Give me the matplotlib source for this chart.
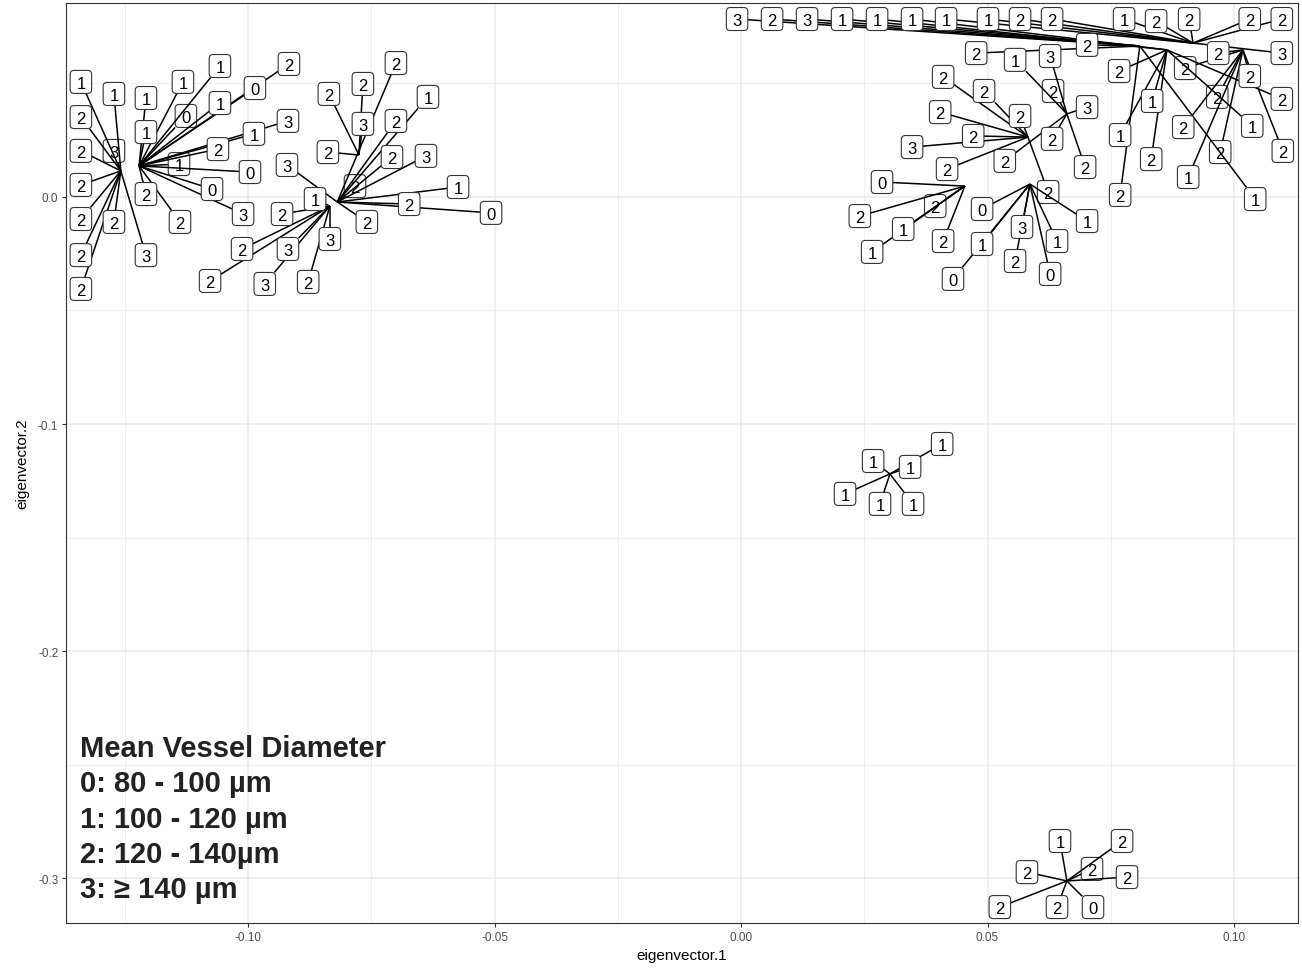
import matplotlib
matplotlib.use("Agg")
import matplotlib.pyplot as plt
import matplotlib.transforms as mtransforms
from matplotlib.patches import FancyBboxPatch
import numpy as np

plt.rcParams['font.family'] = ['Liberation Sans', 'DejaVu Sans']

# ---------------- data ----------------
# positions of the underlying points (several labels share a point)
hub_x = [-0.1258, -0.1221, -0.0819, -0.0834, -0.0775,
         0.0917, 0.0864, 0.1018, 0.0809, 0.0661,
         0.0582, 0.0454, 0.0586, 0.0302, 0.0661]
hub_y = [0.0115, 0.0137, -0.0022, -0.0040, 0.0185,
         0.0678, 0.0648, 0.0648, 0.0665, 0.0366,
         0.0264, 0.0048, 0.0057, -0.1220, -0.3013]

# left group of labels
left_text = ['1', '1', '2', '2', '3', '2', '2', '2', '2', '2', '3',
             '1', '1', '1', '0', '1', '0', '2', '1', '2', '1', '3', '1', '0', '0', '3', '2', '2',
             '2', '1', '2', '2', '3', '2', '1', '2', '0', '2', '3',
             '2', '2', '3', '2',
             '1', '2', '2', '2', '3', '3', '3', '2']
left_x = [-0.1339, -0.1272, -0.1339, -0.1339, -0.1272, -0.1339, -0.1339, -0.1272, -0.1339, -0.1339, -0.1207,
          -0.1207, -0.1132, -0.1057, -0.1126, -0.1057, -0.0986, -0.0917, -0.1207, -0.1061, -0.0988, -0.0919,
          -0.1140, -0.0996, -0.1073, -0.1010, -0.1207, -0.1138,
          -0.0700, -0.0635, -0.0700, -0.0708, -0.0639, -0.0783, -0.0574, -0.0673, -0.0507, -0.0759, -0.0921,
          -0.0836, -0.0767, -0.0767, -0.0838,
          -0.0864, -0.0931, -0.1012, -0.1077, -0.0919, -0.0966, -0.0834, -0.0878]
left_y = [0.0507, 0.0454, 0.0352, 0.0203, 0.0203, 0.0053, -0.0097, -0.0110, -0.0256, -0.0405, -0.0256,
          0.0436, 0.0507, 0.0577, 0.0357, 0.0414, 0.0480, 0.0586, 0.0286, 0.0211, 0.0278, 0.0335,
          0.0145, 0.0110, 0.0035, -0.0075, 0.0013, -0.0110,
          0.0590, 0.0441, 0.0335, 0.0176, 0.0181, 0.0048, 0.0044, -0.0031, -0.0070, -0.0110, 0.0141,
          0.0454, 0.0498, 0.0322, 0.0198,
          -0.0009, -0.0075, -0.0229, -0.0370, -0.0229, -0.0383, -0.0185, -0.0374]
left_hub = [0] * 11 + [1] * 17 + [2] * 11 + [4] * 4 + [3] * 8

# upper right group of labels
right_text = ['3', '2', '3', '1', '1', '1', '1', '1', '2', '2', '1', '2', '2', '2', '2',
              '2', '2', '1', '3', '2', '3', '2', '2', '2',
              '2', '2', '2', '3', '1', '1', '2', '2', '2', '2', '1', '2', '2', '2', '1', '2', '1',
              '2', '2', '2', '2', '2', '3', '2', '2',
              '0', '2', '2', '1', '1', '2',
              '0', '1', '0', '3', '2', '0', '1', '1']
right_x = [-0.0008, 0.0063, 0.0134, 0.0205, 0.0276, 0.0347, 0.0416, 0.0501, 0.0566, 0.0631,
           0.0777, 0.0842, 0.0909, 0.1032, 0.1097,
           0.0477, 0.0702, 0.0556, 0.0627, 0.0633, 0.0702, 0.0631, 0.0698, 0.0535,
           0.0767, 0.0901, 0.0968, 0.1097, 0.0834, 0.0769, 0.0832, 0.0769, 0.0897, 0.0966,
           0.1037, 0.1097, 0.1032, 0.0972, 0.0907, 0.1099, 0.1043,
           0.0410, 0.0493, 0.0566, 0.0404, 0.0471, 0.0347, 0.0418, 0.0623,
           0.0286, 0.0241, 0.0394, 0.0329, 0.0266, 0.0410,
           0.0489, 0.0489, 0.0430, 0.0570, 0.0556, 0.0627, 0.0641, 0.0702]
right_y = [0.0784, 0.0784, 0.0784, 0.0784, 0.0784, 0.0784, 0.0784, 0.0784, 0.0784, 0.0784,
           0.0784, 0.0775, 0.0784, 0.0784, 0.0784,
           0.0634, 0.0670, 0.0604, 0.0621, 0.0467, 0.0396, 0.0256, 0.0132, 0.0159,
           0.0555, 0.0568, 0.0634, 0.0634, 0.0423, 0.0273, 0.0167, 0.0009, 0.0308, 0.0441,
           0.0313, 0.0432, 0.0533, 0.0198, 0.0088, 0.0203, -0.0009,
           0.0529, 0.0467, 0.0357, 0.0374, 0.0269, 0.0220, 0.0123, 0.0022,
           0.0066, -0.0084, -0.0040, -0.0141, -0.0242, -0.0194,
           -0.0053, -0.0207, -0.0361, -0.0132, -0.0282, -0.0339, -0.0194, -0.0106]
right_hub = [8, 8, 8, 8, 6, 6, 5, 5, 5, 5, 5, 5, 5, 5, 5,
             8, 8, 9, 9, 9, 9, 9, 9, 9,
             6, 7, 7, 5, 6, 6, 6, 8, 7, 7, 6, 6, 7, 7, 7, 7, 8,
             10, 10, 10, 10, 10, 10, 10, 10,
             11, 11, 11, 11, 11, 11,
             12, 12, 12, 12, 12, 12, 12, 12]

# middle group
mid_text = ['1', '1', '1', '1', '1', '1']
mid_x = [0.0408, 0.0343, 0.0268, 0.0211, 0.0282, 0.0349]
mid_y = [-0.1088, -0.1189, -0.1163, -0.1308, -0.1352, -0.1352]
mid_hub = [13] * 6

# bottom group
bot_text = ['1', '2', '2', '2', '2', '2', '2', '0']
bot_x = [0.0647, 0.0773, 0.0712, 0.0783, 0.0580, 0.0525, 0.0641, 0.0714]
bot_y = [-0.2837, -0.2837, -0.2960, -0.2996, -0.2974, -0.3128, -0.3128, -0.3128]
bot_hub = [14] * 8

legend_lines = ['Mean Vessel Diameter', '0: 80 - 100 µm', '1: 100 - 120 µm',
                '2: 120 - 140µm', '3: \u2265 140 µm']
legend_x = -0.1341
legend_y = [-0.2427, -0.2581, -0.2740, -0.2894, -0.3048]

x_ticks = [-0.10, -0.05, 0.00, 0.05, 0.10]
x_ticklabels = ['-0.10', '-0.05', '0.00', '0.05', '0.10']
y_ticks = [-0.3, -0.2, -0.1, 0.0]
y_ticklabels = ['-0.3', '-0.2', '-0.1', '0.0']
x_minor = [-0.125, -0.075, -0.025, 0.025, 0.075]
y_minor = [-0.25, -0.15, -0.05, 0.05]

# labels drawn beneath the segments (overlapped in the original)
under_left = {4, 14, 22, 33}
under_right = {19, 25, 33, 37, 48, 51}
under_bot = {2}

# ---------------- figure ----------------
W, H = 1302, 970
fig = plt.figure(figsize=(W / 100, H / 100), dpi=100)
ax = fig.add_axes([66 / W, 1 - 924 / H, (1298 - 66) / W, (924 - 4) / H])

ax.set_xticks(x_ticks)
ax.set_xticklabels(x_ticklabels)
ax.set_yticks(y_ticks)
ax.set_yticklabels(y_ticklabels)
ax.set_xticks(x_minor, minor=True)
ax.set_yticks(y_minor, minor=True)
ax.set_xlim(-0.13692, 0.11298)
ax.set_ylim(-0.31982, 0.08546)
ax.set_autoscale_on(False)

ax.tick_params(which='minor', length=0)
ax.tick_params(which='major', length=3, width=0.8, color='#333333',
               labelcolor='#4D4D4D', labelsize=8.5, pad=2.5)
ax.grid(which='major', color='#EBEBEB', lw=1.1)
ax.grid(which='minor', color='#EBEBEB', lw=0.55)
ax.set_axisbelow(True)
for s in ax.spines.values():
    s.set_color('#333333')
    s.set_linewidth(0.8)

ax.set_xlabel('eigenvector.1', fontsize=11, color='black', labelpad=4)
ax.set_ylabel('eigenvector.2', fontsize=11, color='black', labelpad=6)

BOX_W, BOX_H = 21.5, 23.0  # pixels
FS = 12


def draw_group(texts, xs, ys, hubs, under):
    for i, (t, x, y, h) in enumerate(zip(texts, xs, ys, hubs)):
        hx, hy = hub_x[h], hub_y[h]
        L = ax.transData.transform((x, y))
        P = ax.transData.transform((hx, hy))
        d = P - L
        m = max(abs(d[0]) / (BOX_W / 2), abs(d[1]) / (BOX_H / 2))
        if m > 1.05:
            E = L + d / m
            ex, ey = ax.transData.inverted().transform(E)
            ax.plot([hx, ex], [hy, ey], color='black', lw=1.1, zorder=2,
                    solid_capstyle='butt')
        zb = 1.5 if i in under else 3
        trans = fig.dpi_scale_trans + mtransforms.ScaledTranslation(x, y, ax.transData)
        box = FancyBboxPatch((-BOX_W / 200, -BOX_H / 200), BOX_W / 100, BOX_H / 100,
                             boxstyle='round,pad=0,rounding_size=0.04',
                             transform=trans, facecolor='white',
                             edgecolor='#333333', lw=0.8, zorder=zb)
        ax.add_patch(box)
        ax.annotate(t, (x, y), xytext=(0, -FS * 0.716 / 2), textcoords='offset points',
                    ha='center', va='baseline', fontsize=FS, color='black',
                    zorder=zb + 0.1)


draw_group(left_text, left_x, left_y, left_hub, under_left)
draw_group(right_text, right_x, right_y, right_hub, under_right)
draw_group(mid_text, mid_x, mid_y, mid_hub, set())
draw_group(bot_text, bot_x, bot_y, bot_hub, under_bot)

for line, ly in zip(legend_lines, legend_y):
    ax.text(legend_x, ly, line, fontsize=21, fontweight='bold', color='#222222',
            ha='left', va='center', zorder=5)

ax.set_xlim(-0.13692, 0.11298)
ax.set_ylim(-0.31982, 0.08546)

fig.savefig('out.png', dpi=100)
